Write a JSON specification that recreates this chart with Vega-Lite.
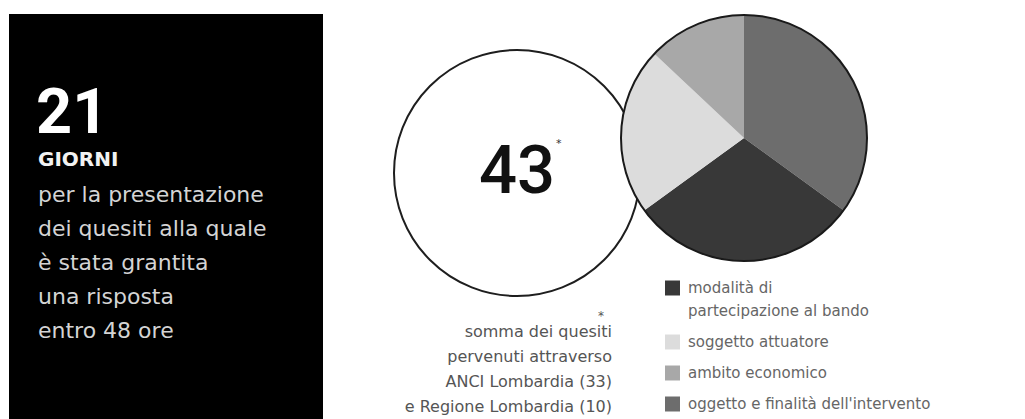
{
  "$schema": "https://vega.github.io/schema/vega-lite/v6.json",
  "width": 1025,
  "height": 419,
  "autosize": {"type": "fit", "contains": "padding"},
  "padding": 0,
  "background": "white",
  "config": {
    "view": {"stroke": null},
    "style": {"guide-label": {"lineHeight": 23}}
  },
  "datasets": {
    "riquadro": [
      {"numero": "21", "unita": "GIORNI", "descrizione": ["per la presentazione", "dei quesiti alla quale", "è stata grantita", "una risposta", "entro 48 ore"]}
    ],
    "totale": [
      {"quesiti": "43", "rimando": "*", "nota": ["somma dei quesiti", "pervenuti attraverso", "ANCI Lombardia (33)", "e Regione Lombardia (10)"]}
    ],
    "temi": [
      {"tema": "oggetto e finalità dell'intervento", "quota": 35, "ordine": 1},
      {"tema": "modalità di partecipazione al bando", "quota": 30, "ordine": 2},
      {"tema": "soggetto attuatore", "quota": 22, "ordine": 3},
      {"tema": "ambito economico", "quota": 13, "ordine": 4}
    ]
  },
  "layer": [
    {
      "data": {"name": "riquadro"},
      "mark": {"type": "rect", "color": "#000000"},
      "encoding": {
        "x": {"datum": 9, "type": "quantitative", "scale": {"domain": [0, 1025], "nice": false, "zero": false}, "axis": null},
        "x2": {"datum": 323},
        "y": {"datum": 14, "type": "quantitative", "scale": {"domain": [0, 419], "nice": false, "zero": false, "reverse": true}, "axis": null},
        "y2": {"datum": 419}
      }
    },
    {
      "data": {"name": "riquadro"},
      "mark": {"type": "text", "align": "left", "baseline": "alphabetic", "font": "Roboto", "fontWeight": "bold", "fontSize": 63, "color": "#ffffff"},
      "encoding": {
        "x": {"datum": 36, "type": "quantitative", "axis": null},
        "y": {"datum": 133, "type": "quantitative", "axis": null},
        "text": {"field": "numero", "type": "nominal"}
      }
    },
    {
      "data": {"name": "riquadro"},
      "mark": {"type": "text", "align": "left", "baseline": "alphabetic", "font": "DejaVu Sans", "fontWeight": "bold", "fontSize": 20, "color": "#f2f2f2"},
      "encoding": {
        "x": {"datum": 38, "type": "quantitative", "axis": null},
        "y": {"datum": 166, "type": "quantitative", "axis": null},
        "text": {"field": "unita", "type": "nominal"}
      }
    },
    {
      "data": {"name": "riquadro"},
      "mark": {"type": "text", "align": "left", "baseline": "alphabetic", "font": "DejaVu Sans", "fontSize": 22, "lineHeight": 34, "color": "#d4d4d4"},
      "encoding": {
        "x": {"datum": 38, "type": "quantitative", "axis": null},
        "y": {"datum": 202, "type": "quantitative", "axis": null},
        "text": {"field": "descrizione", "type": "nominal"}
      }
    },
    {
      "data": {"name": "totale"},
      "mark": {"type": "point", "shape": "circle", "size": 60516, "filled": true, "fill": "#ffffff", "stroke": "#1e1e1e", "strokeWidth": 2, "opacity": 1},
      "encoding": {
        "x": {"datum": 517, "type": "quantitative", "axis": null},
        "y": {"datum": 173, "type": "quantitative", "axis": null}
      }
    },
    {
      "data": {"name": "totale"},
      "mark": {"type": "text", "align": "center", "baseline": "alphabetic", "font": "Roboto", "fontWeight": 500, "fontSize": 67, "color": "#111111"},
      "encoding": {
        "x": {"datum": 517, "type": "quantitative", "axis": null},
        "y": {"datum": 193, "type": "quantitative", "axis": null},
        "text": {"field": "quesiti", "type": "nominal"}
      }
    },
    {
      "data": {"name": "totale"},
      "mark": {"type": "text", "align": "left", "baseline": "alphabetic", "font": "DejaVu Sans", "fontSize": 11, "color": "#333333"},
      "encoding": {
        "x": {"datum": 556, "type": "quantitative", "axis": null},
        "y": {"datum": 147, "type": "quantitative", "axis": null},
        "text": {"field": "rimando", "type": "nominal"}
      }
    },
    {
      "data": {"name": "totale"},
      "mark": {"type": "text", "align": "right", "baseline": "alphabetic", "font": "DejaVu Sans", "fontSize": 12, "color": "#555555"},
      "encoding": {
        "x": {"datum": 604, "type": "quantitative", "axis": null},
        "y": {"datum": 320, "type": "quantitative", "axis": null},
        "text": {"field": "rimando", "type": "nominal"}
      }
    },
    {
      "data": {"name": "totale"},
      "mark": {"type": "text", "align": "right", "baseline": "alphabetic", "font": "DejaVu Sans", "fontSize": 16, "lineHeight": 25, "color": "#555555"},
      "encoding": {
        "x": {"datum": 612, "type": "quantitative", "axis": null},
        "y": {"datum": 337, "type": "quantitative", "axis": null},
        "text": {"field": "nota", "type": "nominal"}
      }
    },
    {
      "data": {"name": "temi"},
      "mark": {"type": "arc", "outerRadius": 123, "stroke": null},
      "encoding": {
        "x": {"datum": 744, "type": "quantitative", "axis": null},
        "y": {"datum": 138, "type": "quantitative", "axis": null},
        "theta": {"field": "quota", "type": "quantitative", "stack": true},
        "order": {"field": "ordine", "type": "quantitative"},
        "color": {
          "field": "tema",
          "type": "nominal",
          "scale": {
            "domain": ["modalità di partecipazione al bando", "soggetto attuatore", "ambito economico", "oggetto e finalità dell'intervento"],
            "range": ["#383838", "#dcdcdc", "#a8a8a8", "#6d6d6d"]
          },
          "legend": {
            "title": null,
            "orient": "none",
            "legendX": 665,
            "legendY": 285,
            "padding": 0,
            "direction": "vertical",
            "symbolType": "M-1,-1.6H1V0.4H-1Z",
            "symbolSize": 225,
            "symbolStrokeWidth": 0,
            "symbolOpacity": 1,
            "labelFont": "DejaVu Sans",
            "labelFontSize": 15,
            "labelColor": "#666666",
            "labelLimit": 400,
            "labelOffset": 8,
            "labelBaseline": "alphabetic",
            "rowPadding": 15,
            "labelExpr": "datum.label == 'modalità di partecipazione al bando' ? ['modalità di', 'partecipazione al bando'] : datum.label"
          }
        }
      }
    },
    {
      "data": {"name": "totale"},
      "mark": {"type": "point", "shape": "circle", "size": 60516, "filled": false, "stroke": "#1a1a1a", "strokeWidth": 2, "opacity": 1},
      "encoding": {
        "x": {"datum": 744, "type": "quantitative", "axis": null},
        "y": {"datum": 138, "type": "quantitative", "axis": null}
      }
    }
  ]
}
